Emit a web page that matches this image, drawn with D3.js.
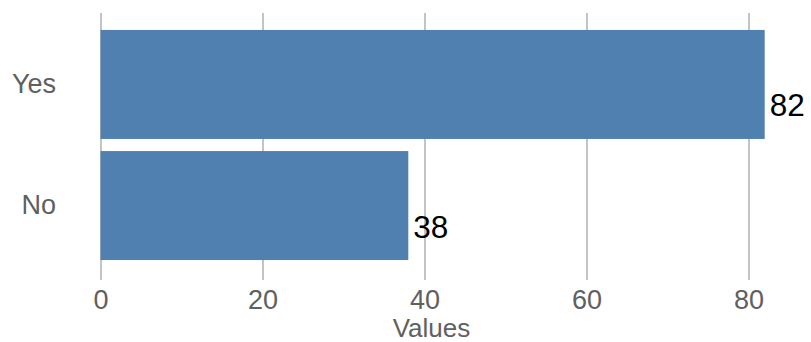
<!DOCTYPE html>
<html>
<head>
<meta charset="utf-8">
<script src="https://cdn.jsdelivr.net/npm/d3@7"></script>
<style>
  html, body { margin: 0; padding: 0; background: #fff; }
  svg { display: block; font-family: "Liberation Sans", Arial, Helvetica, sans-serif; }
</style>
</head>
<body>
<svg id="chart" width="811" height="342"></svg>
<script>
// Survey answers and their counts
const categories = ["Yes", "No"];
const values = [82, 38];
const xTicks = [0, 20, 40, 60, 80];
const xTitle = "Values";

const svg = d3.select("#chart");
const plot = { left: 100, top: 13, bottom: 280 };

const x = d3.scaleLinear().domain([0, 80]).range([100.5, 748.5]);
const y = d3.scaleBand().domain(categories).range([13, 277])
  .paddingInner(0.1).paddingOuter(0.14);

// vertical grid lines with tick labels below
const xAxis = d3.axisBottom(x).tickValues(xTicks).tickFormat(d3.format("d"))
  .tickSize(plot.bottom - plot.top);
const gx = svg.append("g").attr("transform", `translate(0,${plot.top})`).call(xAxis);
gx.select(".domain").remove();
gx.selectAll(".tick line").attr("stroke", "#c4c4c4").attr("stroke-width", 2);
gx.selectAll(".tick text")
  .attr("y", 309 - plot.top).attr("dy", null)
  .attr("fill", "#606060").attr("font-size", 27)
  .attr("font-family", "Liberation Sans, Arial, sans-serif");

// bars
svg.append("g").selectAll("rect")
  .data(categories)
  .join("rect")
  .attr("x", x(0))
  .attr("y", d => y(d))
  .attr("width", (d, i) => x(values[i]) - x(0))
  .attr("height", y.bandwidth())
  .attr("fill", "#5080b0");

// value labels
svg.append("g").selectAll("text")
  .data(categories)
  .join("text")
  .attr("x", (d, i) => x(values[i]) + 5)
  .attr("y", d => y(d) + y.bandwidth() / 2 + 32)
  .attr("font-size", 31.5)
  .attr("fill", "#000")
  .text((d, i) => values[i]);

// category labels
svg.append("g").selectAll("text")
  .data(categories)
  .join("text")
  .attr("x", 56)
  .attr("y", d => y(d) + y.bandwidth() / 2 + 8.5)
  .attr("text-anchor", "end")
  .attr("font-size", 27)
  .attr("fill", "#606060")
  .text(d => d);

// axis title
svg.append("text")
  .attr("x", x(40) + 7)
  .attr("y", 337)
  .attr("text-anchor", "middle")
  .attr("font-size", 26)
  .attr("fill", "#606060")
  .text(xTitle);
</script>
</body>
</html>
